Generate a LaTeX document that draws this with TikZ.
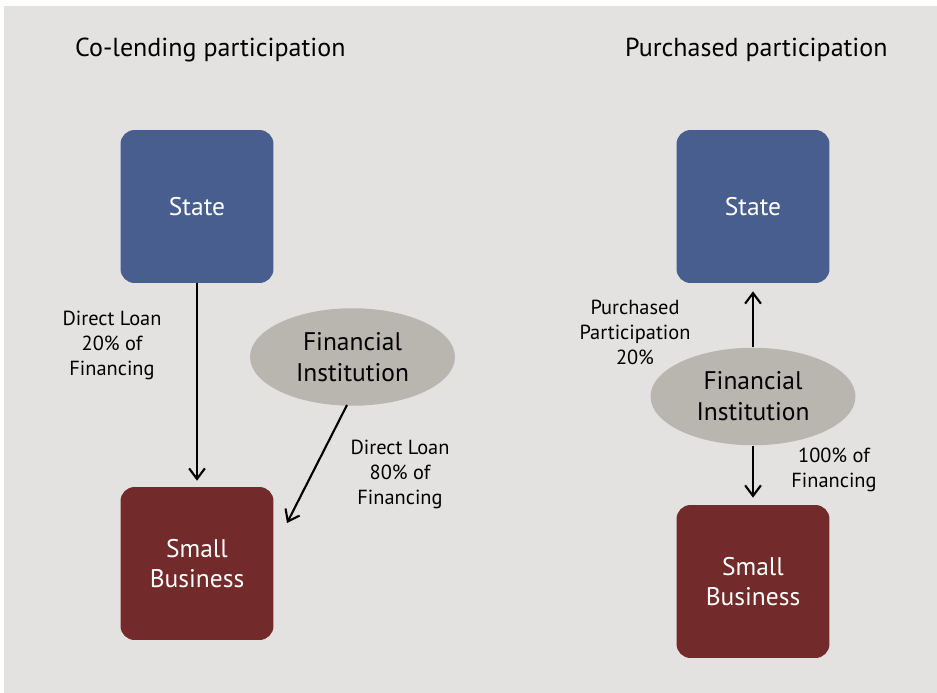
\documentclass[tikz,border=0pt]{standalone}
\usepackage{fontspec}
\setmainfont{PT Sans}
\usepackage{tikz}
\usetikzlibrary{positioning,arrows.meta,shapes.geometric}
\definecolor{stateblue}{RGB}{72,94,143}
\definecolor{bizred}{RGB}{114,43,42}
\definecolor{fingray}{RGB}{185,181,175}
\definecolor{panelgray}{RGB}{227,226,224}

\begin{document}
\begin{tikzpicture}[x=0.02cm, y=-0.02cm,
  party/.style={rounded corners=8pt, minimum width=3.06cm, minimum height=3.06cm,
                align=center, text=white, font=\fontsize{14.5}{17.5}\selectfont},
  bank/.style={ellipse, fill=fingray, minimum width=4.1cm, minimum height=1.95cm,
               inner sep=0pt, align=center, font=\fontsize{14.5}{17.5}\selectfont},
  arr/.style={-{Straight Barb[length=6pt,width=9pt]}, line width=1.2pt},
  lbl/.style={align=center, font=\fontsize{11.6}{14.2}\selectfont},
  heading/.style={anchor=west, font=\fontsize{14.8}{17}\selectfont}
]
  \useasboundingbox (0,0) rectangle (937,693);
  \fill[white] (0,0) rectangle (937,693);
  \fill[panelgray] (4,6) rectangle (937,693);

  % Co-lending (left)
  \node[heading] (coTitle) at (69,50) {Co-lending participation};
  \node[party, fill=stateblue] (coState) at (197,206.5) {State};
  \node[party, fill=bizred] (coBiz) at (197,563.5) {Small\\Business};
  \node[bank] (coFin) at (352.5,357) {Financial\\Institution};
  \draw[arr, shorten >=0.12cm] (coState) -- (coBiz);
  \node[lbl] (coStateLbl) at (112,345) {Direct Loan\\20\% of\\Financing};
  \coordinate (coFinOut) at (347,405);
  \coordinate (coBizIn) at (287,523);
  \draw[arr] (coFinOut) -- (coBizIn);
  \node[lbl] (coFinLbl) at (400,474) {Direct Loan\\80\% of\\Financing};

  % Purchased (right)
  \node[heading] (puTitle) at (619,50) {Purchased participation};
  \node[party, fill=stateblue] (puState) at (753,206.5) {State};
  \node[party, fill=bizred] (puBiz) at (753,581.5) {Small\\Business};
  \node[bank] (puFin) at (753,396.5) {Financial\\Institution};
  \draw[arr, shorten >=0.16cm] (puFin) -- (puState);
  \draw[arr, shorten >=0.14cm] (puFin) -- (puBiz);
  \node[lbl] (puStateLbl) at (635,332) {Purchased\\Participation\\20\%};
  \node[lbl] (puBizLbl) at (834,470) {100\% of\\Financing};
\end{tikzpicture}
\end{document}
